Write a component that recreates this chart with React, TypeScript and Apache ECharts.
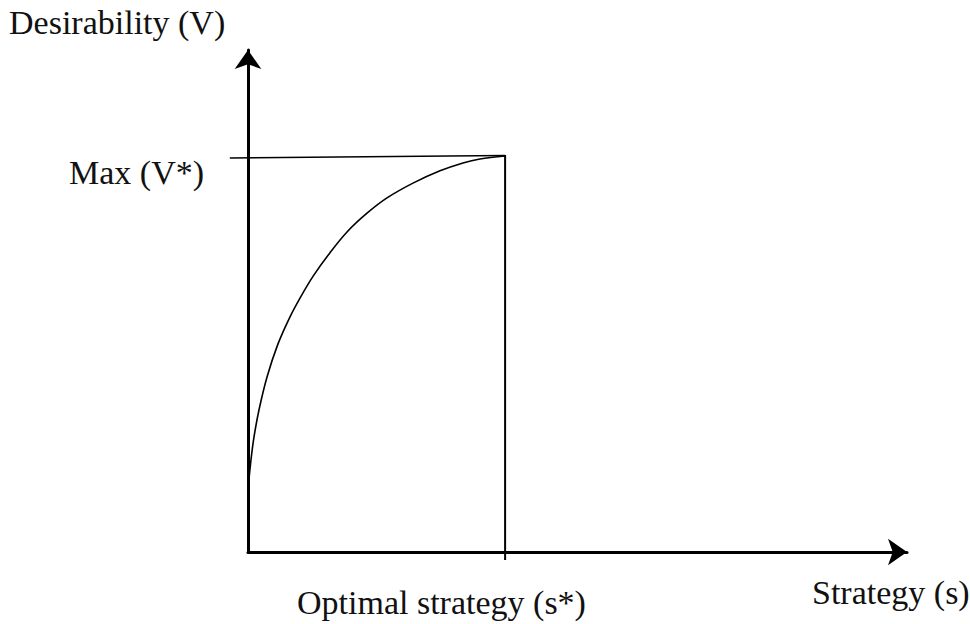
import React, { useEffect, useRef } from "react";
import * as echarts from "echarts";

// Curve: desirability V as a function of strategy s
const curveS = [0, 0, 0.15, 0.46, 0.92, 1.69, 2.93, 4.62, 6.47, 8.01, 10.01, 12.63, 15.25, 18.33, 21.41, 25.41, 29.57, 33.11, 35.73, 39.6];
const curveV = [0, 10.5, 14.6, 18.7, 23.3, 28.8, 35.5, 42.2, 47.7, 51.5, 55.9, 60.7, 64.9, 68.7, 71.8, 74.8, 77.3, 78.9, 79.7, 80.3];

// Reference lines
const optimalS = 39.6; // s*
const maxLineS = [-2.8, 39.6];
const maxLineV = [79.9, 80.4];
const optimalLineV = [80.5, -1.6];

// Axis extents
const sMax = 101.5;
const vMax = 101.8;
const sMinExt = -3.08;
const vMinExt = -2;

const labels = {
  yName: "Desirability (V)",
  maxName: "Max (V*)",
  optName: "Optimal strategy (s*)",
  xName: "Strategy (s)",
};

const FONT = "'Liberation Serif', 'Times New Roman', serif";

export default function App() {
  const ref = useRef<HTMLDivElement>(null);
  useEffect(() => {
    if (!ref.current) return;
    const chart = echarts.init(ref.current, null, { renderer: "svg" });
    const hidden = {
      axisTick: { show: false },
      axisLabel: { show: false },
      splitLine: { show: false },
    };
    const arrowLine = {
      show: true,
      onZero: false,
      symbol: ["none", "arrow"],
      symbolSize: [20, 19],
      lineStyle: { color: "#000", width: 3 },
    };
    const txt = (text: string, x: number, y: number) => ({
      type: "text",
      x,
      y,
      style: {
        text,
        fill: "#111",
        font: `34px ${FONT}`,
        verticalAlign: "middle",
        align: "left",
      },
    });
    const pxS = 659 / sMax;
    const pxV = 502 / vMax;
    const left2 = 248 + sMinExt * pxS;
    const w2 = (sMax - sMinExt) * pxS;
    const h2 = (vMax - vMinExt) * pxV;
    chart.setOption({
      animation: false,
      backgroundColor: "#fff",
      grid: [
        { left: 248, top: 50, width: 659, height: 502 },
        { left: left2, top: 50, width: w2, height: h2 },
      ],
      xAxis: [
        { type: "value", gridIndex: 0, min: 0, max: sMax, ...hidden, axisLine: arrowLine },
        { type: "value", gridIndex: 1, min: sMinExt, max: sMax, show: false },
      ],
      yAxis: [
        { type: "value", gridIndex: 0, min: 0, max: vMax, ...hidden, axisLine: arrowLine },
        { type: "value", gridIndex: 1, min: vMinExt, max: vMax, show: false },
      ],
      series: [
        {
          type: "line",
          xAxisIndex: 1,
          yAxisIndex: 1,
          data: curveS.map((s, i) => [s, curveV[i]]),
          showSymbol: false,
          symbol: "none",
          smooth: 0.35,
          clip: false,
          lineStyle: { color: "#000", width: 1.6 },
        },
        {
          type: "line",
          xAxisIndex: 1,
          yAxisIndex: 1,
          data: maxLineS.map((s, i) => [s, maxLineV[i]]),
          symbol: "none",
          clip: false,
          lineStyle: { color: "#000", width: 1.6 },
        },
        {
          type: "line",
          xAxisIndex: 1,
          yAxisIndex: 1,
          data: optimalLineV.map((v) => [optimalS, v]),
          symbol: "none",
          clip: false,
          lineStyle: { color: "#000", width: 2 },
        },
      ],
      graphic: [
        txt(labels.yName, 9, 22),
        txt(labels.maxName, 69, 172),
        txt(labels.optName, 297, 602),
        txt(labels.xName, 812, 592),
      ],
    });
    return () => chart.dispose();
  }, []);
  return (
    <div
      ref={ref}
      style={{ position: "absolute", left: 0, top: 0, width: 970, height: 624 }}
    />
  );
}
